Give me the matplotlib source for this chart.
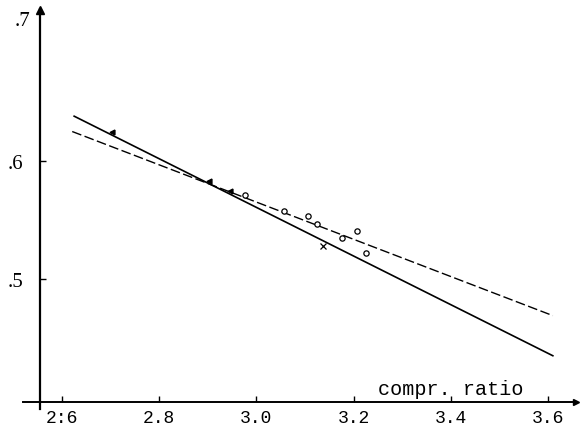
import numpy as np
import matplotlib
matplotlib.use('Agg')
import matplotlib.pyplot as plt

# fitted lines (compr. ratio vs efficiency)
solid_x = [2.625, 3.610]
solid_y = [0.638, 0.435]
dashed_x = [2.621, 3.610]
dashed_y = [0.625, 0.469]

# measured points
filled_x = [2.703, 2.902, 2.946]
filled_y = [0.625, 0.583, 0.575]
open_x = [2.977, 3.057, 3.106, 3.125, 3.176, 3.207, 3.226]
open_y = [0.571, 0.558, 0.553, 0.547, 0.535, 0.541, 0.522]
cross_x = [3.137]
cross_y = [0.528]

xticks = [2.6, 2.8, 3.0, 3.2, 3.4, 3.6]
xlabels = ['2:6', '2.8', '3.0', '3.2', '3.4', '3.6']
yticks = [0.5, 0.6]
ylabels = ['.5', '.6']

fig = plt.figure(figsize=(5.82, 4.39), dpi=100)
ax = fig.add_axes([0, 0, 1, 1])
ax.set_xlim(2.4724, 3.6700)
ax.set_ylim(0.3653, 0.7373)

mono = 'Liberation Mono'
serif = 'Liberation Serif'

# lines
ax.plot(solid_x, solid_y, color='black', lw=1.2)
ax.plot(dashed_x, dashed_y, color='black', lw=1.0, dashes=(7, 2.5))

# points
ax.plot(filled_x, filled_y, '<', color='black', ms=3.5)
ax.plot(open_x, open_y, 'o', mfc='white', mec='black', ms=3.8, mew=0.9)
ax.plot(cross_x, cross_y, 'x', color='black', ms=3.8, mew=0.9)

# axes as drawn on the sheet
x0 = 2.5547   # left axis position
y0 = 0.3958   # bottom axis position
for s in ['top', 'right']:
    ax.spines[s].set_visible(False)
ax.spines['bottom'].set_position(('data', y0))
ax.spines['left'].set_position(('data', x0))
ax.spines['bottom'].set_bounds(x0 - 0.035, 3.655)
ax.spines['left'].set_bounds(y0 - 0.006, 0.729)
ax.spines['bottom'].set_linewidth(1.4)
ax.spines['left'].set_linewidth(1.6)
ax.plot([3.658], [y0], '>', color='black', ms=5, clip_on=False)
ax.plot([x0], [0.728], '^', color='black', ms=6, clip_on=False)

ax.set_xticks(xticks)
ax.set_xticklabels(xlabels, fontfamily=mono, fontsize=13)
ax.set_yticks(yticks)
ax.set_yticklabels(ylabels, fontfamily=serif, fontsize=15)
ax.tick_params(axis='x', direction='in', length=4, width=1, pad=5)
ax.tick_params(axis='y', direction='in', length=4, width=1, pad=12)

ax.text(0.025, 1 - 22 / 439, '.7', transform=ax.transAxes, fontfamily=serif,
        fontsize=15, va='center', ha='left')
ax.text(378 / 582, 1 - 390 / 439, 'compr. ratio', transform=ax.transAxes,
        fontfamily=mono, fontsize=14.5, va='center', ha='left')

fig.savefig('out.png', dpi=100)
